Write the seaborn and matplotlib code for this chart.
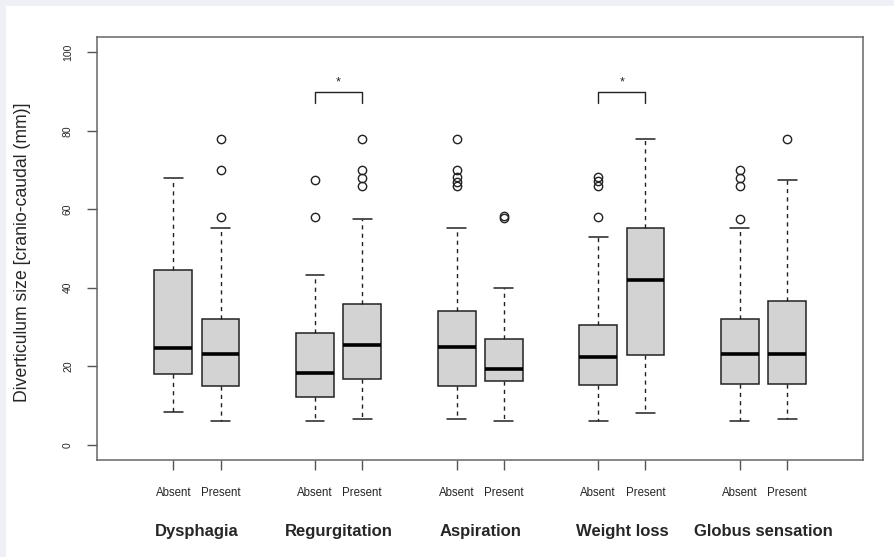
import numpy as np
import pandas as pd
import matplotlib
matplotlib.use("Agg")
import matplotlib.pyplot as plt
import matplotlib.transforms as mtransforms
from matplotlib.patches import Rectangle
import seaborn as sns

# Values (mm), one entry per box:
# Dysphagia A/P, Regurgitation A/P, Aspiration A/P, Weight loss A/P, Globus A/P
symptoms = ["Dysphagia", "Regurgitation", "Aspiration", "Weight loss", "Globus sensation"]
status = ["Absent", "Present"]
whisker_low = [8.3, 6.0, 6.1, 6.5, 6.5, 6.0, 6.0, 8.1, 6.0, 6.5]
q1 = [17.9, 15.0, 12.2, 16.8, 15.0, 16.2, 15.1, 22.9, 15.5, 15.6]
median = [24.6, 23.0, 18.4, 25.5, 24.8, 19.2, 22.4, 42.0, 23.0, 23.2]
q3 = [44.5, 32.0, 28.4, 35.9, 34.2, 27.0, 30.4, 55.1, 32.1, 36.7]
whisker_high = [68.0, 55.1, 43.2, 57.6, 55.1, 39.9, 52.9, 77.8, 55.1, 67.4]
outliers = [
    [],
    [58.0, 69.9, 77.9],
    [58.0, 67.5],
    [66.0, 68.0, 70.0, 77.9],
    [66.0, 67.0, 68.1, 70.0, 77.9],
    [57.8, 58.2],
    [58.0, 66.0, 67.2, 68.3],
    [],
    [57.6, 66.0, 68.0, 70.0],
    [77.9],
]
significant = ["Regurgitation", "Weight loss"]
bracket_low, bracket_high = 87.0, 90.0

# R-style layout: pairs at 1,2 / 4,5 / 7,8 ...
positions = [3 * i + j + 1 for i in range(len(symptoms)) for j in range(len(status))]

# rebuild a sample per box whose quartiles / whiskers / fliers match the summary
rows = []
for k, pos in enumerate(positions):
    vals = [whisker_low[k]] + [q1[k]] * 20 + [median[k]] * 20 + [q3[k]] * 20 + [whisker_high[k]] + outliers[k]
    for v in vals:
        rows.append({"pos": pos, "size": v})
df = pd.DataFrame(rows)

sns.set_style("white")
plt.rcParams["font.family"] = ["Liberation Sans", "DejaVu Sans"]

fig = plt.figure(figsize=(8.94, 5.57), dpi=100)
fig.patch.set_facecolor("#eef0f6")
fig.add_artist(Rectangle((6 / 894, 0), 1, 1 - 6 / 557, transform=fig.transFigure,
                         facecolor="white", edgecolor="none", zorder=-5))
ax = fig.add_axes([0.1088, 0.1741, 0.8562, 0.7595])

sns.boxplot(
    data=df, x="pos", y="size", native_scale=True, width=0.8,
    color="#d3d3d3", saturation=1, linecolor="#222222", linewidth=1.1,
    fliersize=6, ax=ax,
    whiskerprops=dict(linestyle=(0, (3, 3)), linewidth=1.0),
    medianprops=dict(linewidth=2.6, color="black"),
    flierprops=dict(marker="o", markerfacecolor="none", markeredgewidth=1.0,
                    markeredgecolor="#222222"),
)

# significance brackets
for name in significant:
    i = symptoms.index(name)
    a, b = positions[2 * i], positions[2 * i + 1]
    ax.plot([a, a, b, b], [bracket_low, bracket_high, bracket_high, bracket_low],
            color="#222222", lw=1.0)
    ax.text((a + b) / 2, bracket_high + 0.8, "*", ha="center", va="bottom", fontsize=9)

ax.set_xlim(-0.61, 15.6)
ax.set_ylim(-3.9, 103.9)
ax.set_yticks(np.arange(0, 101, 20))
ax.set_yticklabels([str(v) for v in range(0, 101, 20)], rotation=90, va="center", fontsize=7.5)
ax.set_xticks(positions)
ax.set_xticklabels(status * len(symptoms), fontsize=8.3)
ax.tick_params(axis="both", direction="out", length=7.5, width=1.0, color="#555555",
               bottom=True, left=True)
ax.tick_params(axis="y", pad=10)
ax.tick_params(axis="x", pad=12)

for sp in ax.spines.values():
    sp.set_visible(True)
    sp.set_color("#666666")
    sp.set_linewidth(1.1)

ax.set_xlabel("")
ax.set_ylabel("Diverticulum size [cranio-caudal (mm)]", fontsize=12.7)
ax.yaxis.set_label_coords(-0.086, 0.49)

trans = mtransforms.blended_transform_factory(ax.transData, ax.transAxes)
for i, name in enumerate(symptoms):
    mid = (positions[2 * i] + positions[2 * i + 1]) / 2
    ax.text(mid, -0.17, name, transform=trans, ha="center", va="center",
            fontsize=12, fontweight="bold")

fig.savefig("out.png", dpi=100)
